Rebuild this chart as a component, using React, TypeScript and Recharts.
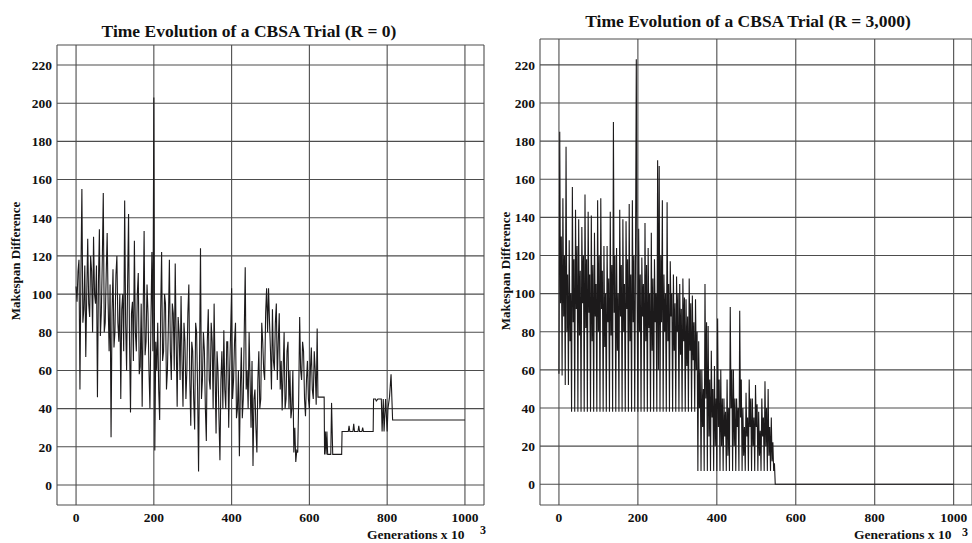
import { LineChart, Line, XAxis, YAxis, CartesianGrid } from 'recharts'

const FONT = '"Liberation Serif", "Times New Roman", serif'
const INK = '#1c1a1b'
const GRID = '#4d4d4d'

const genTicks = [0, 200, 400, 600, 800, 1000]
const diffTicks = [0, 20, 40, 60, 80, 100, 120, 140, 160, 180, 200, 220]

// R = 0 trial, sampled every 2.5 (x10^3) generations up to 620
const R0_STEP = 2.5
const r0Noisy = [
  104, 96, 112, 118, 50, 110, 155, 85, 92, 115, 67, 100, 129, 95, 88, 120, 112, 80, 130, 100,
  95, 115, 46, 105, 134, 78, 90, 118, 153, 80, 85, 110, 132, 95, 70, 105, 25, 90, 113, 72,
  80, 110, 120, 85, 75, 100, 45, 92, 100, 70, 149, 85, 60, 105, 142, 75, 38, 90, 96, 65,
  128, 80, 70, 100, 111, 58, 62, 95, 41, 88, 133, 68, 75, 105, 90, 60, 40, 85, 122, 70,
  203, 18, 75, 60, 85, 50, 34, 90, 122, 65, 70, 100, 95, 50, 60, 85, 118, 70, 55, 95,
  90, 60, 116, 75, 41, 88, 80, 55, 99, 65, 41, 85, 75, 45, 60, 90, 105, 55, 31, 75,
  70, 45, 29, 85, 80, 50, 7, 65, 124, 45, 55, 80, 70, 40, 23, 75, 92, 55, 50, 85,
  75, 40, 95, 60, 27, 70, 60, 35, 13, 55, 70, 40, 81, 50, 40, 75, 75, 30, 60, 80,
  103, 45, 55, 75, 85, 35, 40, 60, 15, 50, 72, 35, 45, 80, 114, 50, 60, 40, 80, 55,
  30, 65, 10, 45, 50, 30, 17, 55, 70, 40, 45, 85, 75, 60, 55, 90, 103, 80, 103, 85,
  70, 50, 92, 65, 60, 85, 95, 55, 75, 90, 50, 65, 39, 60, 80, 40, 45, 70, 75, 40,
  60, 35, 40, 60, 17, 30, 12, 18, 17, 45, 88, 60, 55, 75, 70, 45, 36, 55, 65, 45,
  40, 60, 72, 50, 45, 70, 60, 42, 82,
]
// plateau phase after 620
const r0TailGen = [
  622, 638, 639, 641, 643, 645, 647, 655, 657, 660, 683, 684, 700, 702, 704, 712, 714, 716,
  725, 727, 729, 735, 737, 739, 764, 765, 770, 772, 776, 785, 787, 790, 792, 796, 800, 802,
  806, 810, 814, 1000,
]
const r0TailDiff = [
  46, 46, 16, 28, 16, 28, 16, 16, 43, 16, 16, 28, 28, 31, 28, 28, 32, 28,
  28, 31, 28, 28, 30, 28, 28, 45, 45, 44, 45, 45, 28, 45, 28, 45, 28, 40,
  46, 58, 34, 34,
]

// R = 3,000 trial, sampled every 2 (x10^3) generations up to 546
const R3K_STEP = 2
const r3kNoisy = [
  58, 185, 95, 130, 57, 150, 88, 120, 52, 177, 80, 110, 52, 128, 75, 100,
  38, 156, 85, 118, 38, 144, 92, 125, 38, 139, 78, 112, 38, 135, 95, 120,
  38, 152, 82, 118, 38, 143, 90, 110, 38, 141, 75, 115, 38, 132, 88, 105,
  38, 149, 80, 120, 38, 150, 92, 112, 38, 125, 72, 100, 38, 125, 85, 108,
  38, 143, 78, 115, 38, 190, 90, 120, 38, 124, 70, 100, 38, 144, 88, 115,
  38, 139, 80, 105, 38, 138, 92, 118, 38, 147, 75, 110, 38, 149, 85, 120,
  38, 120, 223, 100, 38, 134, 80, 110, 38, 119, 88, 105, 38, 137, 75, 115,
  38, 124, 82, 100, 38, 132, 70, 108, 38, 118, 85, 100, 38, 170, 60, 167,
  38, 120, 85, 149, 38, 110, 80, 100, 38, 148, 75, 105, 38, 117, 88, 100,
  38, 110, 70, 95, 38, 109, 80, 100, 38, 105, 68, 92, 38, 108, 75, 98,
  38, 97, 62, 88, 38, 108, 70, 95, 38, 99, 65, 85, 38, 97, 60, 80,
  7, 75, 40, 60, 7, 60, 30, 50, 7, 105, 45, 85, 7, 83, 25, 55,
  7, 70, 35, 50, 7, 62, 20, 45, 7, 87, 30, 55, 7, 60, 20, 45,
  7, 45, 25, 38, 7, 55, 15, 40, 7, 93, 40, 60, 7, 60, 20, 45,
  7, 45, 30, 40, 7, 91, 35, 55, 7, 40, 15, 30, 7, 48, 25, 35,
  7, 55, 30, 45, 7, 45, 20, 35, 7, 52, 30, 42, 7, 38, 15, 28,
  7, 45, 25, 35, 7, 54, 20, 40, 7, 50, 15, 30, 7, 35, 12, 22,
  7, 11,
]
const r3kTailGen = [548, 1000]
const r3kTailDiff = [0, 0]

const buildSeries = (noisy: number[], step: number, tailGen: number[], tailDiff: number[]) => [
  ...noisy.map((diff, i) => ({ gen: i * step, diff })),
  ...tailGen.map((gen, i) => ({ gen, diff: tailDiff[i] })),
]

const r0Data = buildSeries(r0Noisy, R0_STEP, r0TailGen, r0TailDiff)
const r3kData = buildSeries(r3kNoisy, R3K_STEP, r3kTailGen, r3kTailDiff)

const tickStyle = { fontFamily: FONT, fontSize: 13.5, fontWeight: 'bold', fill: '#111' } as const

interface PanelProps {
  data: { gen: number; diff: number }[]
  left: number
  top: number
  right: number
  yAxisWidth: number
  xDomain: [number, number]
  yDomain: [number, number]
}

function Panel({ data, left, top, right, yAxisWidth, xDomain, yDomain }: PanelProps) {
  return (
    <div style={{ position: 'absolute', left, top: 0 }}>
      <LineChart width={486} height={543} data={data} margin={{ top, right, bottom: 0, left: 0 }}>
        <CartesianGrid stroke={GRID} strokeWidth={1.1} />
        <XAxis
          dataKey="gen"
          type="number"
          domain={xDomain}
          ticks={genTicks}
          allowDataOverflow
          axisLine={false}
          tickLine={false}
          tickSize={0}
          tickMargin={7}
          height={38}
          tick={tickStyle}
          interval={0}
        />
        <YAxis
          type="number"
          domain={yDomain}
          ticks={diffTicks}
          allowDataOverflow
          axisLine={false}
          tickLine={false}
          tickSize={0}
          tickMargin={5}
          width={yAxisWidth}
          tick={tickStyle}
          interval={0}
        />
        <Line
          type="linear"
          dataKey="diff"
          stroke={INK}
          strokeWidth={1.1}
          dot={false}
          activeDot={false}
          isAnimationActive={false}
        />
      </LineChart>
    </div>
  )
}

export default function App() {
  return (
    <div
      style={{
        position: 'absolute',
        left: 0,
        top: 0,
        width: 972,
        height: 543,
        overflow: 'hidden',
        background: 'white',
      }}
    >
      <Panel data={r0Data} left={0} top={45} right={2} yAxisWidth={57} xDomain={[-49, 1049]} yDomain={[-10.5, 230.5]} />
      <Panel data={r3kData} left={486} top={39} right={0} yAxisWidth={54} xDomain={[-48, 1046.5]} yDomain={[-10.9, 233.6]} />
      <svg
        width={972}
        height={543}
        style={{ position: 'absolute', left: 0, top: 0, pointerEvents: 'none' }}
        fontFamily={FONT}
        fontWeight="bold"
        fill="#111"
      >
        <text x={249} y={37} fontSize={17.5} textAnchor="middle">
          Time Evolution of a CBSA Trial (R = 0)
        </text>
        <text x={748} y={27} fontSize={17.5} textAnchor="middle">
          Time Evolution of a CBSA Trial (R = 3,000)
        </text>
        <text x={20} y={261} fontSize={13} textAnchor="middle" transform="rotate(-90 20 261)">
          Makespan Difference
        </text>
        <text x={510} y={271} fontSize={13} textAnchor="middle" transform="rotate(-90 510 271)">
          Makespan Difference
        </text>
        <text x={367} y={539} fontSize={13.5}>Generations x 10</text>
        <text x={480} y={534} fontSize={12}>3</text>
        <text x={854} y={539} fontSize={13.5}>Generations x 10</text>
        <text x={962} y={536} fontSize={12}>3</text>
      </svg>
    </div>
  )
}
